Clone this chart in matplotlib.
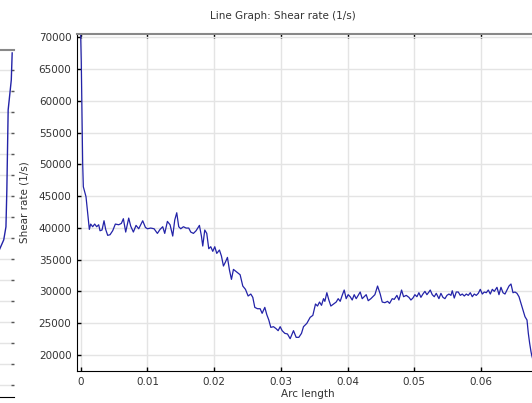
import matplotlib
matplotlib.use('Agg')
import matplotlib.pyplot as plt

# shear rate along the arc
arc_length = [0.0, 0.00009, 0.0002, 0.0003, 0.0004, 0.0008, 0.0013,
              0.0015, 0.0018, 0.0021, 0.0024, 0.0027, 0.0029, 0.0032, 0.0035, 0.00375, 0.00405,
              0.0044, 0.0048, 0.0052, 0.0057, 0.0061, 0.0064, 0.00675, 0.0072, 0.0075, 0.0079,
              0.0083, 0.0087, 0.0093, 0.0097, 0.0100, 0.0105, 0.0110, 0.0115, 0.0119, 0.0123,
              0.0126, 0.0130, 0.0134, 0.0138, 0.0141, 0.0144, 0.0147, 0.0150, 0.0154, 0.0158,
              0.0162, 0.0165, 0.0169, 0.0173, 0.0178, 0.0181, 0.0183, 0.0186, 0.0189, 0.0192,
              0.0195, 0.0198, 0.0201, 0.0204, 0.0208, 0.0211, 0.0214, 0.0217, 0.0220, 0.0223,
              0.0226, 0.0229, 0.0234, 0.0239, 0.0243, 0.0247, 0.0251, 0.0255, 0.0258, 0.0261,
              0.0265, 0.0269, 0.0272, 0.0276, 0.0279, 0.0282, 0.0285, 0.0289, 0.0293, 0.0296,
              0.0299, 0.0302, 0.0306, 0.0310, 0.0314, 0.0319, 0.0323, 0.0327, 0.0331, 0.0334,
              0.0339, 0.0344, 0.0348, 0.0352, 0.0355, 0.0358, 0.0361, 0.0364, 0.0366, 0.0369,
              0.0372, 0.0375, 0.0379, 0.0383, 0.0386, 0.0389, 0.0392, 0.0395, 0.0398, 0.0401,
              0.0404, 0.0407, 0.0410, 0.0413, 0.0416, 0.0419, 0.0422, 0.0425, 0.0428, 0.0431,
              0.0435, 0.0438, 0.0441, 0.0445, 0.0449, 0.0452, 0.0456, 0.0460, 0.0463, 0.0467,
              0.0470, 0.0474, 0.0477, 0.0481, 0.0484, 0.0488, 0.0492, 0.0495, 0.0498, 0.0501,
              0.0504, 0.0507, 0.0510, 0.0513, 0.0516, 0.0519, 0.0522, 0.0524, 0.0527, 0.0530,
              0.0533, 0.0537, 0.0540, 0.0543, 0.0546, 0.0549, 0.0552, 0.0555, 0.0557, 0.0560,
              0.0563, 0.0566, 0.0569, 0.0572, 0.0575, 0.0578, 0.0581, 0.0584, 0.0587, 0.0590,
              0.0593, 0.0596, 0.0599, 0.0602, 0.0605, 0.0608, 0.0611, 0.0614, 0.0617, 0.0620,
              0.0624, 0.0627, 0.0630, 0.0633, 0.0636, 0.0639, 0.0642, 0.0645, 0.0648, 0.0651,
              0.0654, 0.0657, 0.0660, 0.0663, 0.0666, 0.0669, 0.0671, 0.0673, 0.0675, 0.0676,
              0.0680]
shear_rate = [70370, 66170, 57500, 50170, 46490, 44920, 39780,
              40620, 40200, 40620, 40200, 40510, 39570, 39680, 41140, 39780, 38840,
              38940, 39570, 40620, 40510, 40720, 41460, 39360, 41560, 40300, 39360,
              40410, 39880, 41140, 40100, 39880, 39990, 39880, 39150, 39780, 40200,
              39150, 41040, 40510, 38730, 41250, 42400, 40200, 39880, 40200, 39990,
              39990, 39360, 39150, 39570, 40410, 38730, 37160, 39680, 39150, 36740,
              37050, 36320, 37050, 36000, 36530, 35580, 34010, 34640, 35370, 33380,
              31910, 33480, 33060, 32640, 30860, 30340, 29290, 29600, 29080, 27500,
              27290, 27290, 26560, 27500, 26350, 25510, 24350, 24460, 24140, 23830,
              24460, 23830, 23410, 23310, 22570, 23830, 22780, 22780, 23410, 24460,
              24980, 25930, 26240, 28030, 27710, 28340, 27820, 28870, 28450, 29810,
              28660, 27710, 28030, 28340, 28870, 28450, 29390, 30230, 28870, 29500,
              29180, 28660, 29500, 28870, 29390, 29920, 28870, 29180, 29500, 28550,
              28870, 29180, 29500, 30860, 29600, 28340, 28240, 28450, 28130, 28870,
              28760, 29390, 28660, 30230, 29180, 29390, 29080, 28660, 28970, 29500,
              29180, 29810, 29080, 29600, 30020, 29500, 29920, 30230, 29500, 29180,
              29710, 28870, 29710, 29080, 28870, 29390, 29600, 29390, 30120, 28970,
              29920, 29920, 29390, 29600, 29290, 29600, 29390, 29810, 29180, 29600,
              29390, 29710, 30340, 29600, 29920, 29810, 30230, 29600, 30340, 30020,
              30660, 29500, 30660, 29810, 29600, 30230, 30860, 31180, 29810, 29920,
              29710, 29180, 28130, 27080, 26030, 25510, 23410, 21840, 20520, 20000,
              18400]

x_ticks = [0, 0.01, 0.02, 0.03, 0.04, 0.05, 0.06]
x_tick_labels = ['0', '0.01', '0.02', '0.03', '0.04', '0.05', '0.06']
y_ticks = [20000, 25000, 30000, 35000, 40000, 45000, 50000, 55000, 60000, 65000, 70000]

# piece of the neighbouring plot cut off at the left edge
frag_x = [0.0, 0.148, 0.37, 0.593, 0.763, 0.837, 0.874, 0.889, 0.911, 0.963, 0.978]
frag_y = [6.81, 6.62, 6.43, 6.24, 6.43, 6.91, 7.53, 9.29, 13.10, 14.52, 15.81]
frag_ticks = list(range(16))

line_color = '#2323a8'
grid_color = '#e4e4e4'
text_color = '#333333'
fs = 7.5

fig = plt.figure(figsize=(5.32, 4.03), dpi=100)

# left fragment
ax2 = fig.add_axes([-0.2, 6 / 403, 0.2 + 13.5 / 532, 347 / 403])
ax2.plot(frag_x, frag_y, color=line_color, linewidth=1.0)
ax2.set_xlim(-1, 1)
ax2.set_ylim(-0.57, 15.95)
ax2.set_yticks(frag_ticks)
ax2.set_xticks([])
ax2.yaxis.tick_right()
ax2.tick_params(axis='y', direction='in', length=2, width=1, colors='#555555', labelright=False)
ax2.grid(True, axis='y', color=grid_color, linewidth=1)
ax2.spines['left'].set_visible(False)
ax2.spines['right'].set_visible(False)
ax2.spines['top'].set_color('#888888')
ax2.spines['top'].set_linewidth(1.5)
ax2.spines['bottom'].set_color('black')

# main plot
ax = fig.add_axes([77 / 532, 32 / 403, 462 / 532, 337 / 403])
ax.plot(arc_length, shear_rate, color=line_color, linewidth=0.9)
ax.set_xlim(-0.00055, 0.0687)
ax.set_ylim(17480, 70550)
ax.set_xticks(x_ticks)
ax.set_xticklabels(x_tick_labels)
ax.set_yticks(y_ticks)
ax.grid(True, color=grid_color, linewidth=1)
ax.set_axisbelow(True)
ax.tick_params(direction='in', length=3, width=1, labelsize=fs, labelcolor=text_color,
               top=True, pad=4)
ax.spines['right'].set_visible(False)
ax.spines['top'].set_color('#888888')
ax.spines['top'].set_linewidth(1.5)
ax.spines['left'].set_color('black')
ax.spines['bottom'].set_color('black')

ax.set_title('Line Graph: Shear rate (1/s)', fontsize=fs, color=text_color, pad=11, x=0.446)
ax.set_xlabel('Arc length', fontsize=fs, color=text_color)
ax.set_ylabel('Shear rate (1/s)', fontsize=fs, color=text_color)
ax.xaxis.set_label_coords(0.5, -0.054)
ax.yaxis.set_label_coords(-0.103, 0.5)

fig.savefig('out.png', dpi=100)
